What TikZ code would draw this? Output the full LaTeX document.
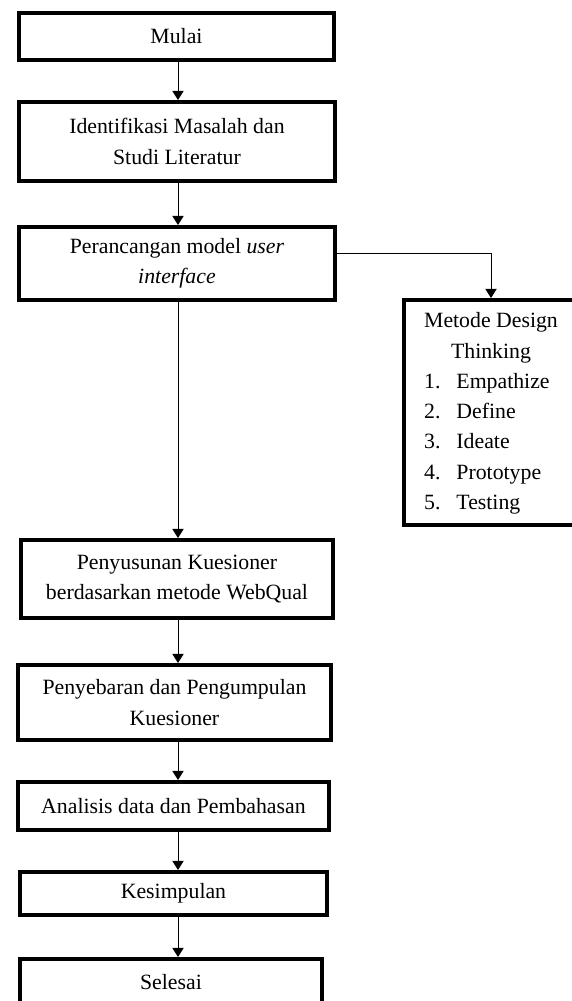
\documentclass[tikz,border=0pt]{standalone}
\usepackage{fontspec}
\setmainfont{Liberation Serif}
\usetikzlibrary{arrows.meta}

\begin{document}
\begin{tikzpicture}[
    stepbox/.style={rectangle, draw, line width=2.8pt, align=center, inner sep=2pt, anchor=west,
        font=\fontsize{15.5}{21.5}\selectfont},
    arr/.style={-{Triangle[width=8pt,length=6.5pt]}, line width=0.7pt}
]
    \useasboundingbox (0,0) rectangle (14.275,-25.025);
    \coordinate (col) at (4.45,0);

    % Main flow
    \node[stepbox, minimum width=7.875cm, minimum height=1.175cm] (mulai) at (0.425,-0.9125) {Mulai};
    \node[stepbox, minimum width=7.9cm, minimum height=1.975cm] (identifikasi) at (0.425,-3.5375) {Identifikasi Masalah dan\\Studi Literatur};
    \node[stepbox, minimum width=7.9cm, minimum height=1.825cm] (perancangan) at (0.425,-6.5875) {Perancangan model \textit{user}\\\textit{interface}};
    \node[stepbox, minimum width=7.8cm, minimum height=1.95cm] (kuesioner) at (0.475,-14.475) {Penyusunan Kuesioner\\berdasarkan metode WebQual};
    \node[stepbox, minimum width=7.825cm, minimum height=1.875cm] (penyebaran) at (0.4,-17.5625) {Penyebaran dan Pengumpulan\\Kuesioner};
    \node[stepbox, minimum width=7.775cm, minimum height=1.2cm] (analisis) at (0.4,-20.15) {Analisis data dan Pembahasan};
    \node[stepbox, minimum width=7.675cm, minimum height=1.075cm] (kesimpulan) at (0.45,-22.3375) {Kesimpulan};
    \node[stepbox, minimum width=7.55cm, minimum height=1.15cm] (selesai) at (0.45,-24.55) {Selesai};

    % Design Thinking box
    \node[stepbox, anchor=center, minimum width=4.35cm, minimum height=5.625cm] (metode) at (12.275,-10.3125) {%
        \begin{tabular}{@{}l@{}l@{}}
        \multicolumn{2}{@{}c@{}}{Metode Design}\\
        \multicolumn{2}{@{}c@{}}{Thinking}\\
        \makebox[23pt][l]{1.} & Empathize\\
        \makebox[23pt][l]{2.} & Define\\
        \makebox[23pt][l]{3.} & Ideate\\
        \makebox[23pt][l]{4.} & Prototype\\
        \makebox[23pt][l]{5.} & Testing
        \end{tabular}};

    % Arrows
    \draw[arr] (mulai.south -| col) -- (identifikasi.north -| col);
    \draw[arr] (identifikasi.south -| col) -- (perancangan.north -| col);
    \draw[arr] (perancangan.south -| col) -- (kuesioner.north -| col);
    \draw[arr] (kuesioner.south -| col) -- (penyebaran.north -| col);
    \draw[arr] (penyebaran.south -| col) -- (analisis.north -| col);
    \draw[arr] (analisis.south -| col) -- (kesimpulan.north -| col);
    \draw[arr] (kesimpulan.south -| col) -- (selesai.north -| col);
    \draw[arr] ([yshift=0.26cm]perancangan.east) -| (metode.north);

\end{tikzpicture}
\end{document}
